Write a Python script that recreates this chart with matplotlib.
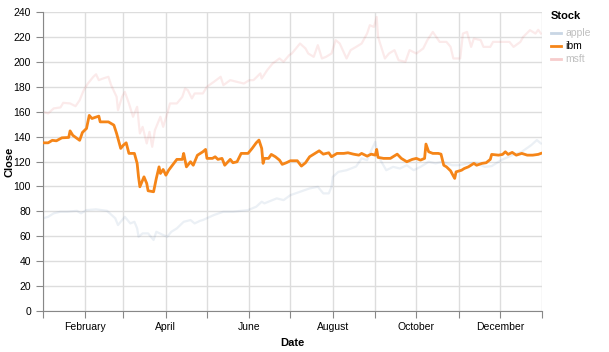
import matplotlib
matplotlib.use("Agg")
import matplotlib.pyplot as plt
import matplotlib.dates as mdates
from matplotlib.lines import Line2D
import pandas as pd

plt.rcParams['font.family'] = ['Liberation Sans', 'DejaVu Sans']

# дни от 1 января и цена закрытия
apple_day = [0, 4, 8, 13, 18, 25, 28, 32, 39, 47, 53, 55, 60, 64, 67, 69, 70, 73, 77, 81, 83, 88, 91, 94, 98,
             103, 108, 111, 115, 117, 125, 132, 139, 150, 156, 160, 162, 171, 176, 181, 188, 195, 201, 205,
             209, 211, 212, 216, 222, 229, 233, 237, 239, 243, 245, 246, 251, 256, 261, 266, 271, 276, 282,
             287, 292, 299, 304, 311, 316, 323, 328, 335, 343, 350, 357, 361, 364]
apple_close = [74.4, 75.6, 78.4, 79.7, 79.7, 80.4, 78.4, 81, 81.6, 80.4, 74.4, 69, 75.6, 70.3, 71.6, 66.3, 59.6,
               62.3, 62.3, 57, 63.6, 61, 59.6, 63.6, 66.3, 71.6, 73, 70.3, 72.4, 73, 77, 79.7, 79.7, 81, 83.7,
               87.7, 86.4, 90.4, 89, 93, 95.7, 98.4, 99.7, 94.4, 94.4, 99.7, 107.7, 111.7, 113, 116, 122.5,
               121.1, 126.5, 135.8, 123.8, 122.5, 113, 115.7, 114.4, 117, 113, 115.7, 119.8, 118.5, 119.8, 117,
               117, 118.5, 119, 115.7, 116.3, 121.1, 125.1, 127.8, 133.2, 137.2, 134.5]

ibm_day = [0, 4, 7, 10, 14, 19, 20, 22, 27, 29, 32, 34, 36, 38, 41, 42, 48, 52, 54, 57, 59, 61, 63, 67, 69, 70,
           71, 74, 76, 77, 81, 83, 85, 86, 88, 90, 92, 98, 102, 103, 105, 108, 110, 113, 117, 119, 120, 124,
           126, 128, 131, 133, 137, 139, 142, 145, 150, 153, 156, 158, 160, 161, 162, 165, 167, 170, 173, 175,
           178, 181, 186, 189, 192, 195, 199, 202, 205, 209, 211, 215, 220, 223, 227, 231, 233, 237, 240, 243,
           244, 245, 249, 254, 259, 262, 266, 270, 273, 276, 279, 280, 282, 285, 289, 291, 293, 295, 298, 299,
           301, 302, 306, 308, 311, 315, 317, 321, 324, 327, 328, 333, 336, 338, 340, 343, 346, 350, 354, 358,
           362, 364]
ibm_close = [135, 135, 137, 136.6, 139, 139.3, 144.6, 141, 137, 143.3, 146.5, 157, 154.5, 155.3, 156.4, 151.8,
             151.8, 149.2, 142.5, 130.5, 133.2, 135, 126.5, 126.5, 118.5, 107.7, 99.7, 107.7, 102.4, 96.5,
             95.7, 106.4, 115.7, 110.4, 113.6, 109, 113, 121.7, 121.7, 126.5, 115.7, 119.8, 117, 125, 127.8,
             129.7, 122.5, 122.5, 123.8, 121.7, 122.5, 117, 121.7, 119, 119.8, 126.5, 126.5, 130.5, 135, 137.2,
             130.5, 118.5, 122.5, 122.5, 125.7, 123.8, 121.1, 117.7, 119, 120.6, 120.6, 116.3, 119, 123.8,
             126.5, 128.6, 125.9, 127, 123.8, 126.5, 126.5, 127, 125.9, 125.1, 126.5, 124.3, 125.9, 125.1,
             129.7, 123.3, 122.5, 122.5, 125.9, 122.5, 119.8, 121.7, 122.5, 121.1, 122.5, 134, 127.8, 126.5,
             126.5, 125.9, 117, 115.7, 112.5, 110.4, 106.4, 111.7, 113, 114.4, 115.7, 118.5, 117, 118.5, 119,
             121.7, 125.7, 125.1, 125.7, 127.8, 125.7, 127.3, 125.1, 126.5, 125.1, 125.1, 125.7, 126.5]

msft_day = [0, 4, 8, 13, 15, 20, 24, 27, 30, 33, 37, 39, 41, 44, 48, 50, 54, 55, 58, 60, 63, 66, 69, 71, 73, 76,
            78, 80, 82, 86, 88, 91, 93, 98, 102, 104, 106, 109, 111, 115, 117, 120, 125, 130, 132, 137, 142,
            147, 151, 154, 159, 160, 164, 166, 168, 173, 176, 180, 182, 188, 192, 194, 198, 201, 204, 207, 211,
            214, 217, 222, 225, 229, 233, 237, 239, 242, 244, 245, 250, 253, 257, 260, 265, 268, 273, 278, 281,
            285, 290, 295, 298, 300, 305, 307, 310, 313, 315, 320, 322, 327, 329, 334, 341, 344, 349, 351, 356,
            360, 362, 364]
msft_close = [159.9, 158.6, 162.6, 163.4, 167.1, 166.6, 164.4, 169.2, 177.3, 182.6, 188, 190, 185.3, 186.6, 188,
              181.3, 171.9, 161.2, 171.9, 175.9, 166.6, 155.9, 163.9, 142.5, 147.8, 134.5, 143.8, 131.8, 145.2,
              155.9, 147.8, 158.6, 166.6, 166.6, 171.9, 178.6, 177.3, 170.6, 174.6, 174.6, 174.6, 180, 183.9,
              188, 181.3, 185.3, 183.9, 182.6, 185.3, 185.3, 190.7, 186.6, 193.3, 196, 198.7, 202.7, 200, 205.3,
              206.7, 214.7, 210.7, 206.7, 204, 213.4, 202.7, 204, 206.7, 217.4, 214.7, 202.7, 209.4, 212, 214.7,
              222.7, 229.4, 228, 236, 220, 202.7, 206.7, 209.4, 201.3, 200, 209.4, 206.7, 210.7, 217.4, 224,
              216, 216, 212, 202.7, 202.7, 222.7, 224, 212, 218.7, 217.4, 212, 212, 216, 216, 216, 212, 216,
              220, 225.4, 222.7, 225.7, 222.7]

start = pd.Timestamp('2010-01-01')


def to_dates(days):
    return start + pd.to_timedelta(days, unit='D')


fig = plt.figure(figsize=(6.09, 3.52), dpi=100)
ax = fig.add_axes([42.7 / 609, 41 / 352, 499.6 / 609, 299 / 352])

ax.plot(to_dates(apple_day), apple_close, color='#4c78a8', alpha=0.11, lw=1.6, zorder=2)
ax.plot(to_dates(msft_day), msft_close, color='#e45756', alpha=0.12, lw=1.6, zorder=2)
ax.plot(to_dates(ibm_day), ibm_close, color='#f58518', lw=2, zorder=3)

ax.set_xlim(start, pd.Timestamp('2011-01-01'))
ax.set_ylim(0, 240)
ax.set_yticks(range(0, 241, 20))
ax.xaxis.set_major_locator(mdates.MonthLocator())
ax.xaxis.set_major_formatter(plt.FuncFormatter(
    lambda v, pos: mdates.num2date(v).strftime('%B') if mdates.num2date(v).month % 2 == 0 else ''))

ax.grid(True, color='#dddddd', lw=1)
ax.set_axisbelow(True)
for s in ['top', 'right']:
    ax.spines[s].set_visible(False)
for s in ['left', 'bottom']:
    ax.spines[s].set_color('#888888')
ax.tick_params(colors='#888888', labelcolor='#000000', labelsize=7.5, length=5)
ax.tick_params(axis='x', pad=3)

ax.set_xlabel('Date', fontsize=8, fontweight='bold')
ax.set_ylabel('Close', fontsize=8, fontweight='bold')
ax.xaxis.set_label_coords(0.5, -27 / 299)
ax.yaxis.set_label_coords(-28.5 / 499.6, 0.5)

# легенда вручную
fig.text(551 / 609, 1 - 16 / 352, 'Stock', fontsize=8, fontweight='bold', va='center', ha='left')
legend_items = [('apple', '#4c78a8', 0.3, '#c0c0c0'), ('ibm', '#f58518', 1.0, '#000000'),
                ('msft', '#e45756', 0.3, '#c0c0c0')]
for i, (name, col, a, tc) in enumerate(legend_items):
    yy = 1 - (33 + i * 13) / 352
    fig.add_artist(Line2D([551 / 609, 561 / 609], [yy, yy], color=col, alpha=a, lw=2,
                          transform=fig.transFigure))
    fig.text(565 / 609, yy, name, fontsize=7.5, color=tc, va='center', ha='left')

fig.savefig('out.png', dpi=100)
